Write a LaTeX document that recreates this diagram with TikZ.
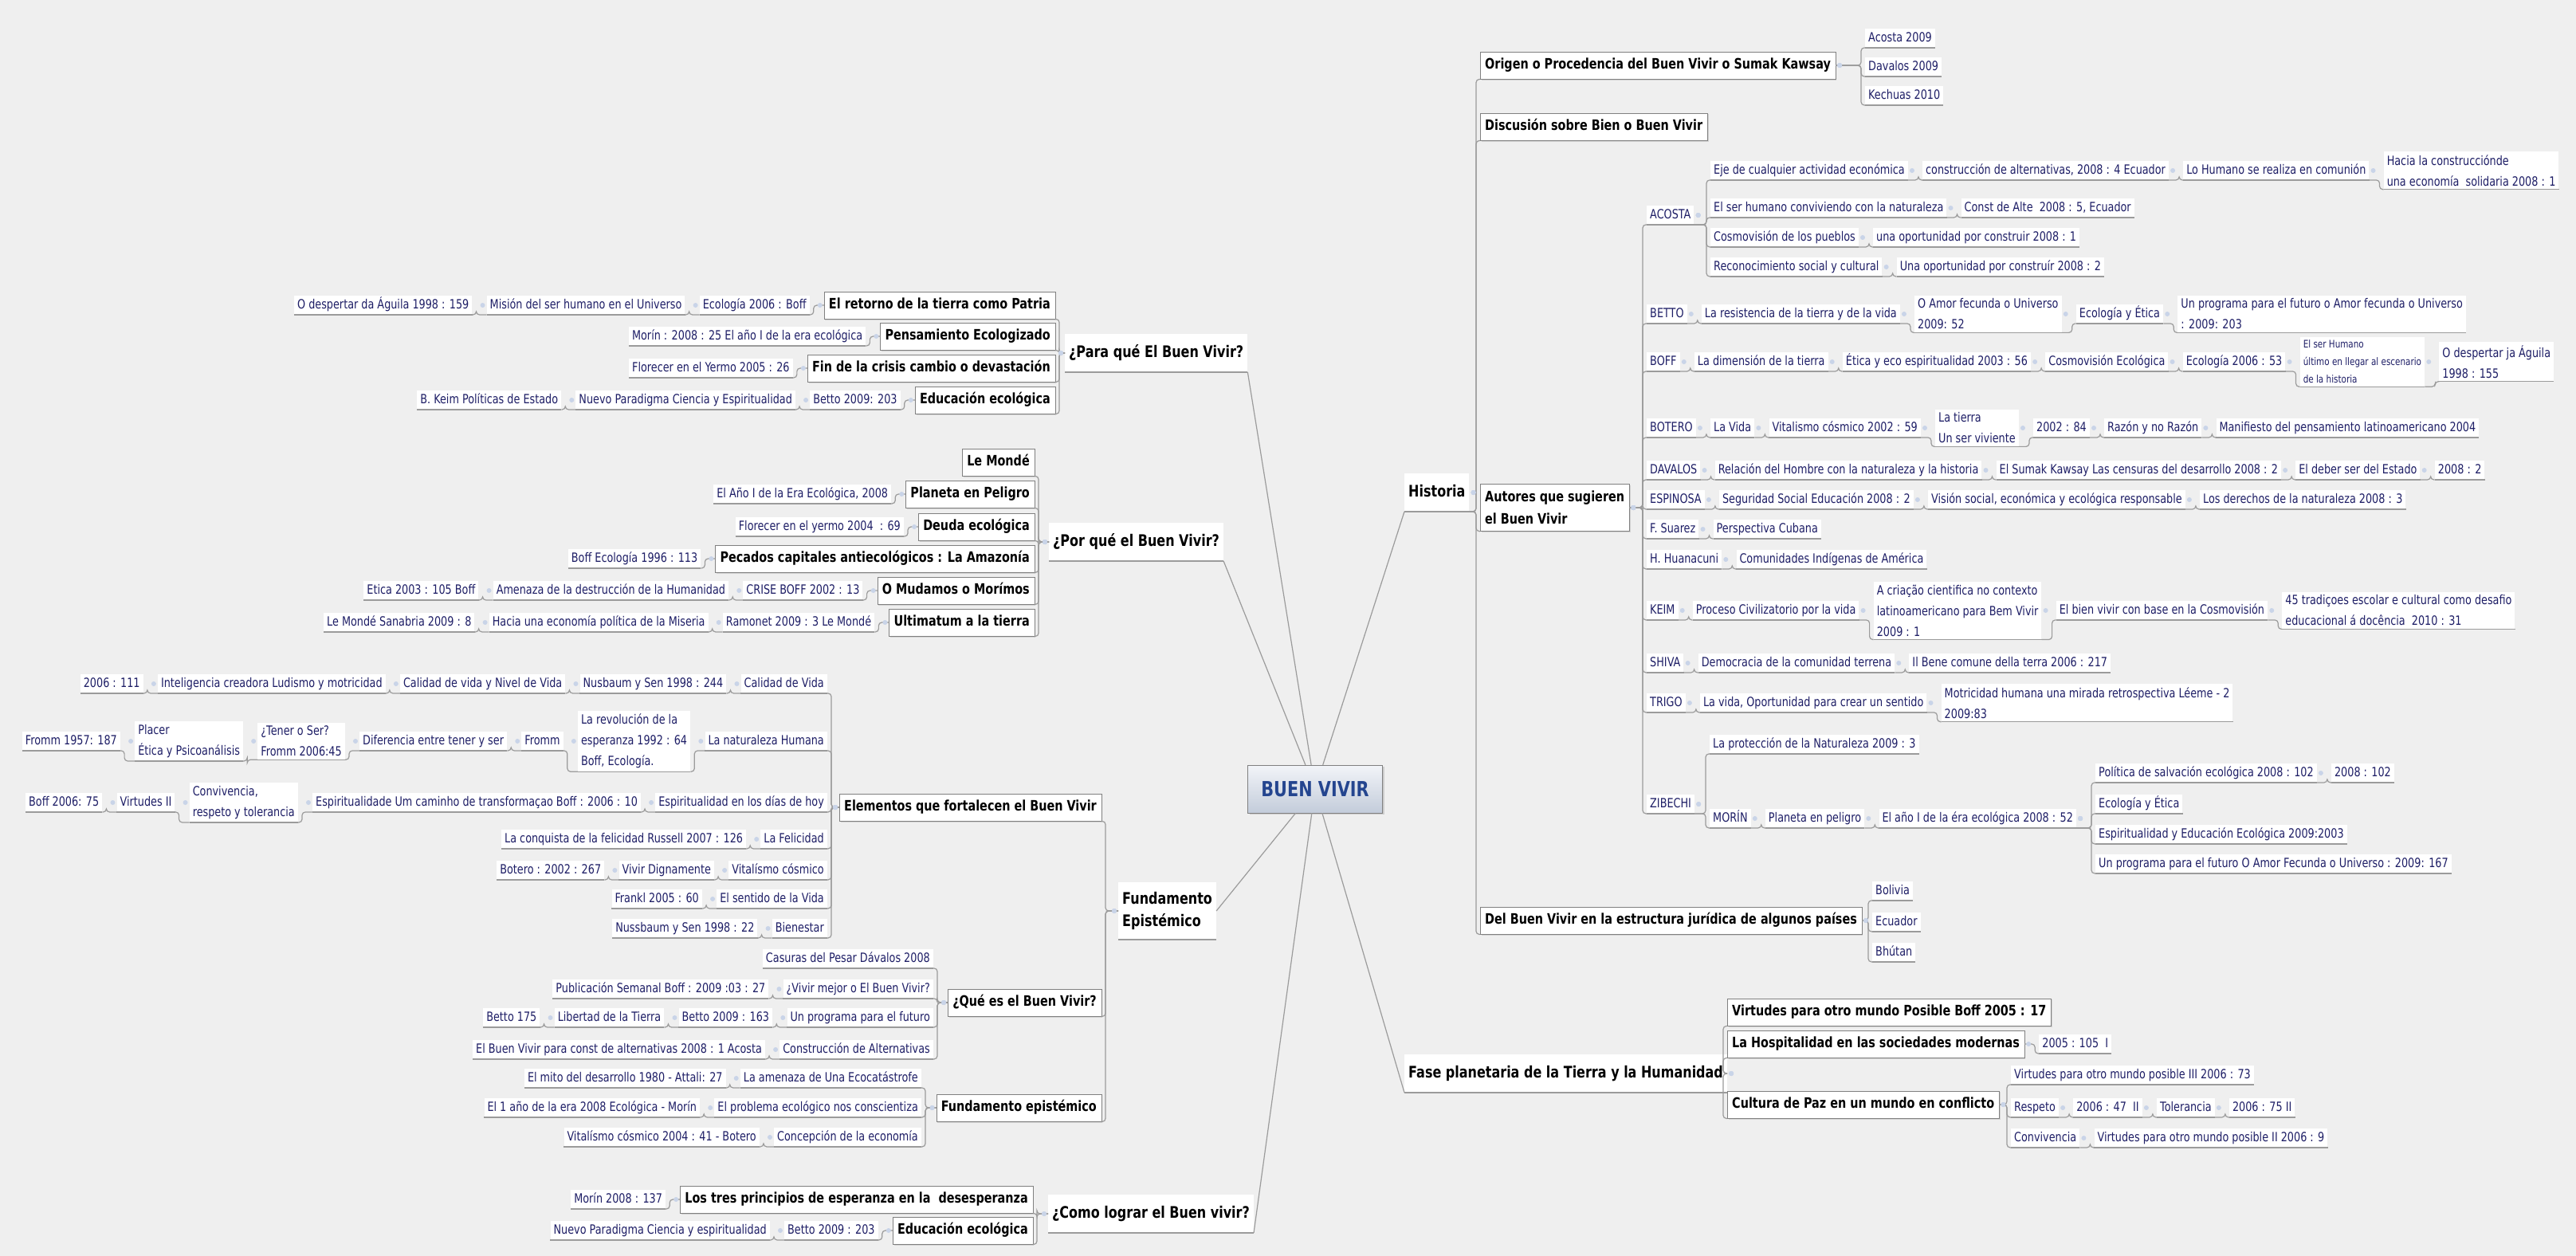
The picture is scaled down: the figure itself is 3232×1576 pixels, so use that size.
\documentclass[tikz,border=0pt]{standalone}
\usepackage{fontspec}
\setmainfont{DejaVu Sans}[FakeStretch=0.8]
\usepackage{xcolor}
\usetikzlibrary{positioning, shadows}

\definecolor{bgcol}{HTML}{EFEFEF}
\definecolor{leaftext}{HTML}{1E1E66}
\definecolor{linecol}{HTML}{9B9B9B}
\definecolor{boxline}{HTML}{808080}
\definecolor{knobcol}{HTML}{C9D4E8}
\definecolor{hubtext}{HTML}{24458F}
\definecolor{hubtop}{HTML}{F2F4F8}
\definecolor{hubbot}{HTML}{C3CCDA}

\newcommand\leafsize{\fontsize{16}{26}\selectfont}
\newcommand\smallleaf{\fontsize{13}{22}\selectfont}
\newcommand\topicsize{\fontsize{18}{28}\selectfont\bfseries}
\newcommand\mainsize{\fontsize{20}{28}\selectfont\bfseries}

% links: optional parent anchor, parent, child
\newcommand\rlk[3][south east]{%
  \draw[link] (#2.#1) -| ([xshift=-5pt]#3.south west) -- (#3.south west);
  \fill[knob] ([xshift=5pt]#2.east) circle (3pt);}
\newcommand\llk[3][south west]{%
  \draw[link] (#2.#1) -| ([xshift=5pt]#3.south east) -- (#3.south east);
  \fill[knob] ([xshift=-5pt]#2.west) circle (3pt);}

\begin{document}
\begin{tikzpicture}[x=1pt, y=-1pt, node distance=18pt,
  uline/.style={draw=linecol, line width=1.3pt},
  link/.style={draw=linecol, line width=1.2pt, rounded corners=4pt},
  knob/.style={fill=knobcol},
  leaf/.style={fill=white, text=leaftext, font=\leafsize, inner xsep=4pt, inner ysep=4pt,
    text height=12pt, text depth=3.5pt,
    append after command={(\tikzlastnode.south west) edge[uline] (\tikzlastnode.south east)}},
  leafm/.style={leaf, text height=, text depth=, align=left},
  topic/.style={draw=boxline, fill=white, font=\topicsize, inner xsep=6pt, inner ysep=8.5pt,
    text height=13.5pt, text depth=4pt,
    drop shadow={shadow xshift=1.5pt, shadow yshift=-1.5pt, opacity=0.25}},
  topicm/.style={topic, text height=, text depth=, align=left},
  main/.style={fill=white, font=\mainsize, inner xsep=5pt, inner ysep=14pt,
    text height=15pt, text depth=4.5pt,
    append after command={(\tikzlastnode.south west) edge[uline] (\tikzlastnode.south east)}},
  mainm/.style={main, text height=, text depth=, align=left, inner ysep=12pt},
  hub/.style={draw=boxline, top color=hubtop, bottom color=hubbot, text=hubtext,
    font=\fontsize{26}{30}\selectfont\bfseries, minimum width=169pt, minimum height=60pt,
    drop shadow={shadow xshift=2pt, shadow yshift=-2pt, opacity=0.3}}]

\useasboundingbox (0,0) rectangle (3232,1576);
\fill[bgcol] (0,0) rectangle (3232,1576);

\node[hub] (bv) at (1650,990) {BUEN VIVIR};

% primary topics
\node[main, anchor=west] (para) at (1336,443) {¿Para qué El Buen Vivir?};
\node[main, anchor=west] (porq) at (1316,680) {¿Por qué el Buen Vivir?};
\node[mainm, anchor=west] (fep) at (1403,1143) {Fundamento\\Epistémico};
\node[main, anchor=west] (com) at (1315,1523) {¿Como lograr el Buen vivir?};
\node[main, anchor=west] (his) at (1762,618) {Historia};
\node[main, anchor=west] (fas) at (1762,1347) {Fase planetaria de la Tierra y la Humanidad};

% ¿Para qué?
\node[topic, anchor=east] (ret) at (1324,383) {El retorno de la tierra como Patria};
\node[leaf, left=of ret] (ret1) {Ecología 2006 : Boff};
\node[leaf, left=of ret1] (ret2) {Misión del ser humano en el Universo};
\node[leaf, left=of ret2] (ret3) {O despertar da Águila 1998 : 159};
\node[topic, anchor=east] (pen) at (1324,422) {Pensamiento Ecologizado};
\node[leaf, left=of pen] (pen1) {Morín : 2008 : 25 El año I de la era ecológica};
\node[topic, anchor=east] (fin) at (1324,462) {Fin de la crisis cambio o devastación};
\node[leaf, left=of fin] (fin1) {Florecer en el Yermo 2005 : 26};
\node[topic, anchor=east] (edu) at (1324,502) {Educación ecológica};
\node[leaf, left=of edu] (edu1) {Betto 2009: 203};
\node[leaf, left=of edu1] (edu2) {Nuevo Paradigma Ciencia y Espiritualidad};
\node[leaf, left=of edu2] (edu3) {B. Keim Políticas de Estado};

% ¿Por qué?
\node[topic, anchor=east] (lem) at (1298,580) {Le Mondé};
\node[topic, anchor=east] (pla) at (1298,620) {Planeta en Peligro};
\node[leaf, left=of pla] (pla1) {El Año I de la Era Ecológica, 2008};
\node[topic, anchor=east] (deu) at (1298,661) {Deuda ecológica};
\node[leaf, left=of deu] (deu1) {Florecer en el yermo 2004\ \ : 69};
\node[topic, anchor=east] (pec) at (1298,701) {Pecados capitales antiecológicos : La Amazonía};
\node[leaf, left=of pec] (pec1) {Boff Ecología 1996 : 113};
\node[topic, anchor=east] (mud) at (1298,741) {O Mudamos o Morímos};
\node[leaf, left=of mud] (mud1) {CRISE BOFF 2002 : 13};
\node[leaf, left=of mud1] (mud2) {Amenaza de la destrucción de la Humanidad};
\node[leaf, left=of mud2] (mud3) {Etica 2003 : 105 Boff};
\node[topic, anchor=east] (ult) at (1298,781) {Ultimatum a la tierra};
\node[leaf, left=of ult] (ult1) {Ramonet 2009 : 3 Le Mondé};
\node[leaf, left=of ult1] (ult2) {Hacia una economía política de la Miseria};
\node[leaf, left=of ult2] (ult3) {Le Mondé Sanabria 2009 : 8};

% Fundamento Epistémico
\node[topic, anchor=east] (ele) at (1382,1013) {Elementos que fortalecen el Buen Vivir};
\node[topic, anchor=east] (que) at (1382,1258) {¿Qué es el Buen Vivir?};
\node[topic, anchor=east] (fun) at (1382,1390) {Fundamento epistémico};

\node[leaf, anchor=east] (cv) at (1038,858) {Calidad de Vida};
\node[leaf, left=of cv] (cv1) {Nusbaum y Sen 1998 : 244};
\node[leaf, left=of cv1] (cv2) {Calidad de vida y Nivel de Vida};
\node[leaf, left=of cv2] (cv3) {Inteligencia creadora Ludismo y motricidad};
\node[leaf, left=of cv3] (cv4) {2006 : 111};
\node[leaf, anchor=east] (nh) at (1038,930) {La naturaleza Humana};
\node[leafm, left=of nh] (nh1) {La revolución de la\\esperanza 1992 : 64\\Boff, Ecología.};
\node[leaf, left=of nh1] (nh2) {Fromm};
\node[leaf, left=of nh2] (nh3) {Diferencia entre tener y ser};
\node[leafm, left=of nh3] (nh4) {¿Tener o Ser?\\Fromm 2006:45};
\node[leafm, left=of nh4] (nh5) {Placer\\Ética y Psicoanálisis};
\node[leaf, left=of nh5] (nh6) {Fromm 1957: 187};
\node[leaf, anchor=east] (esp) at (1038,1007) {Espiritualidad en los días de hoy};
\node[leaf, left=of esp] (esp1) {Espiritualidade Um caminho de transformaçao Boff : 2006 : 10};
\node[leafm, left=of esp1] (esp2) {Convivencia,\\respeto y tolerancia};
\node[leaf, left=of esp2] (esp3) {Virtudes II};
\node[leaf, left=of esp3] (esp4) {Boff 2006: 75};
\node[leaf, anchor=east] (fel) at (1038,1053) {La Felicidad};
\node[leaf, left=of fel] (fel1) {La conquista de la felicidad Russell 2007 : 126};
\node[leaf, anchor=east] (vit) at (1038,1092) {Vitalísmo cósmico};
\node[leaf, left=of vit] (vit1) {Vivir Dignamente};
\node[leaf, left=of vit1] (vit2) {Botero : 2002 : 267};
\node[leaf, anchor=east] (sen) at (1038,1128) {El sentido de la Vida};
\node[leaf, left=of sen] (sen1) {Frankl 2005 : 60};
\node[leaf, anchor=east] (bie) at (1038,1165) {Bienestar};
\node[leaf, left=of bie] (bie1) {Nussbaum y Sen 1998 : 22};

\node[leaf, anchor=east] (cas) at (1171,1203) {Casuras del Pesar Dávalos 2008};
\node[leaf, anchor=east] (viv) at (1171,1241) {¿Vivir mejor o El Buen Vivir?};
\node[leaf, left=of viv] (viv1) {Publicación Semanal Boff : 2009 :03 : 27};
\node[leaf, anchor=east] (prg) at (1171,1277) {Un programa para el futuro};
\node[leaf, left=of prg] (prg1) {Betto 2009 : 163};
\node[leaf, left=of prg1] (prg2) {Libertad de la Tierra};
\node[leaf, left=of prg2] (prg3) {Betto 175};
\node[leaf, anchor=east] (cna) at (1171,1317) {Construcción de Alternativas};
\node[leaf, left=of cna] (cna1) {El Buen Vivir para const de alternativas 2008 : 1 Acosta};

\node[leaf, anchor=east] (ame) at (1156,1353) {La amenaza de Una Ecocatástrofe};
\node[leaf, left=of ame] (ame1) {El mito del desarrollo 1980 - Attali: 27};
\node[leaf, anchor=east] (prb) at (1156,1390) {El problema ecológico nos conscientiza};
\node[leaf, left=of prb] (prb1) {El 1 año de la era 2008 Ecológica - Morín};
\node[leaf, anchor=east] (cep) at (1156,1427) {Concepción de la economía};
\node[leaf, left=of cep] (cep1) {Vitalísmo cósmico 2004 : 41 - Botero};

% ¿Como lograr?
\node[topic, anchor=east] (tre) at (1296,1505) {Los tres principios de esperanza en la\ \ desesperanza};
\node[leaf, left=of tre] (tre1) {Morín 2008 : 137};
\node[topic, anchor=east] (eco) at (1296,1544) {Educación ecológica};
\node[leaf, left=of eco] (eco1) {Betto 2009 : 203};
\node[leaf, left=of eco1] (eco2) {Nuevo Paradigma Ciencia y espiritualidad};

% Historia
\node[topic, anchor=west] (ori) at (1857,82) {Origen o Procedencia del Buen Vivir o Sumak Kawsay};
\node[leaf, anchor=west] (ori1) at (2340,48) {Acosta 2009};
\node[leaf, anchor=west] (ori2) at (2340,84) {Davalos 2009};
\node[leaf, anchor=west] (ori3) at (2340,120) {Kechuas 2010};
\node[topic, anchor=west] (dis) at (1857,159) {Discusión sobre Bien o Buen Vivir};
\node[topicm, anchor=west] (aut) at (1857,637) {Autores que sugieren\\el Buen Vivir};
\node[topic, anchor=west] (del) at (1857,1155) {Del Buen Vivir en la estructura jurídica de algunos países};
\node[leaf, anchor=west] (del1) at (2349,1118) {Bolivia};
\node[leaf, anchor=west] (del2) at (2349,1157) {Ecuador};
\node[leaf, anchor=west] (del3) at (2349,1195) {Bhútan};

% autores
\node[leaf, anchor=west] (acos) at (2066,270) {ACOSTA};
\node[leaf, anchor=west] (ac1) at (2146,214) {Eje de cualquier actividad económica};
\node[leaf, right=of ac1] (ac1a) {construcción de alternativas, 2008 : 4 Ecuador};
\node[leaf, right=of ac1a] (ac1b) {Lo Humano se realiza en comunión};
\node[leafm, right=of ac1b] (ac1c) {Hacia la construcciónde\\una economía\ \ solidaria 2008 : 1};
\node[leaf, anchor=west] (ac2) at (2146,261) {El ser humano conviviendo con la naturaleza};
\node[leaf, right=of ac2] (ac2a) {Const de Alte\ \ 2008 : 5, Ecuador};
\node[leaf, anchor=west] (ac3) at (2146,298) {Cosmovisión de los pueblos};
\node[leaf, right=of ac3] (ac3a) {una oportunidad por construir 2008 : 1};
\node[leaf, anchor=west] (ac4) at (2146,335) {Reconocimiento social y cultural};
\node[leaf, right=of ac4] (ac4a) {Una oportunidad por construír 2008 : 2};

\node[leaf, anchor=west] (bet) at (2066,394) {BETTO};
\node[leaf, right=of bet] (bet1) {La resistencia de la tierra y de la vida};
\node[leafm, right=of bet1] (bet2) {O Amor fecunda o Universo\\2009: 52};
\node[leaf, right=of bet2] (bet3) {Ecología y Ética};
\node[leafm, right=of bet3] (bet4) {Un programa para el futuro o Amor fecunda o Universo\\: 2009: 203};

\node[leaf, anchor=west] (bof) at (2066,454) {BOFF};
\node[leaf, right=of bof] (bof1) {La dimensión de la tierra};
\node[leaf, right=of bof1] (bof2) {Ética y eco espiritualidad 2003 : 56};
\node[leaf, right=of bof2] (bof3) {Cosmovisión Ecológica};
\node[leaf, right=of bof3] (bof4) {Ecología 2006 : 53};
\node[leafm, font=\smallleaf, right=of bof4] (bof5) {El ser Humano\\último en llegar al escenario\\de la historia};
\node[leafm, right=of bof5] (bof6) {O despertar ja Águila\\1998 : 155};

\node[leaf, anchor=west] (bot) at (2066,537) {BOTERO};
\node[leaf, right=of bot] (bot1) {La Vida};
\node[leaf, right=of bot1] (bot2) {Vitalismo cósmico 2002 : 59};
\node[leafm, right=of bot2] (bot3) {La tierra\\Un ser viviente};
\node[leaf, right=of bot3] (bot4) {2002 : 84};
\node[leaf, right=of bot4] (bot5) {Razón y no Razón};
\node[leaf, right=of bot5] (bot6) {Manifiesto del pensamiento latinoamericano 2004};

\node[leaf, anchor=west] (dav) at (2066,590) {DAVALOS};
\node[leaf, right=of dav] (dav1) {Relación del Hombre con la naturaleza y la historia};
\node[leaf, right=of dav1] (dav2) {El Sumak Kawsay Las censuras del desarrollo 2008 : 2};
\node[leaf, right=of dav2] (dav3) {El deber ser del Estado};
\node[leaf, right=of dav3] (dav4) {2008 : 2};

\node[leaf, anchor=west] (esn) at (2066,627) {ESPINOSA};
\node[leaf, right=of esn] (esn1) {Seguridad Social Educación 2008 : 2};
\node[leaf, right=of esn1] (esn2) {Visión social, económica y ecológica responsable};
\node[leaf, right=of esn2] (esn3) {Los derechos de la naturaleza 2008 : 3};

\node[leaf, anchor=west] (sua) at (2066,664) {F. Suarez};
\node[leaf, right=of sua] (sua1) {Perspectiva Cubana};
\node[leaf, anchor=west] (hua) at (2066,702) {H. Huanacuni};
\node[leaf, right=of hua] (hua1) {Comunidades Indígenas de América};

\node[leaf, anchor=west] (kei) at (2066,766) {KEIM};
\node[leaf, right=of kei] (kei1) {Proceso Civilizatorio por la vida};
\node[leafm, right=of kei1] (kei2) {A criação cientifica no contexto\\latinoamericano para Bem Vivir\\2009 : 1};
\node[leaf, right=of kei2] (kei3) {El bien vivir con base en la Cosmovisión};
\node[leafm, right=of kei3] (kei4) {45 tradiçoes escolar e cultural como desafio\\educacional á docência\ \ 2010 : 31};

\node[leaf, anchor=west] (shi) at (2066,832) {SHIVA};
\node[leaf, right=of shi] (shi1) {Democracia de la comunidad terrena};
\node[leaf, right=of shi1] (shi2) {Il Bene comune della terra 2006 : 217};

\node[leaf, anchor=west] (tri) at (2066,882) {TRIGO};
\node[leaf, right=of tri] (tri1) {La vida, Oportunidad para crear un sentido};
\node[leafm, right=of tri1] (tri2) {Motricidad humana una mirada retrospectiva Léeme - 2\\2009:83};

\node[leaf, anchor=west] (zib) at (2066,1009) {ZIBECHI};
\node[leaf, anchor=west] (zi1) at (2145,934) {La protección de la Naturaleza 2009 : 3};
\node[leaf, anchor=west] (mor) at (2145,1027) {MORÍN};
\node[leaf, right=of mor] (mor1) {Planeta en peligro};
\node[leaf, right=of mor1] (mor2) {El año I de la éra ecológica 2008 : 52};
\node[leaf, anchor=west] (zp) at (2629,970) {Política de salvación ecológica 2008 : 102};
\node[leaf, right=of zp] (zp1) {2008 : 102};
\node[leaf, anchor=west] (ze) at (2629,1009) {Ecología y Ética};
\node[leaf, anchor=west] (zs) at (2629,1047) {Espiritualidad y Educación Ecológica 2009:2003};
\node[leaf, anchor=west] (zu) at (2629,1084) {Un programa para el futuro O Amor Fecunda o Universo : 2009: 167};

% Fase planetaria
\node[topic, anchor=west] (vir) at (2167,1270) {Virtudes para otro mundo Posible Boff 2005 : 17};
\node[topic, anchor=west] (hos) at (2167,1310) {La Hospitalidad en las sociedades modernas};
\node[leaf, right=of hos] (hos1) {2005 : 105\ \ I};
\node[topic, anchor=west] (cul) at (2167,1386) {Cultura de Paz en un mundo en conflicto};
\node[leaf, anchor=west] (cu1) at (2523,1349) {Virtudes para otro mundo posible III 2006 : 73};
\node[leaf, anchor=west] (cu2) at (2523,1390) {Respeto};
\node[leaf, right=of cu2] (cu2a) {2006 : 47\ \ II};
\node[leaf, right=of cu2a] (cu2b) {Tolerancia};
\node[leaf, right=of cu2b] (cu2c) {2006 : 75 II};
\node[leaf, anchor=west] (cu3) at (2523,1428) {Convivencia};
\node[leaf, right=of cu3] (cu3a) {Virtudes para otro mundo posible II 2006 : 9};

% center branches
\foreach \t in {para, porq, com} \draw[link] (bv) -- (\t.south east);
\draw[link] (bv) -- (fep.east);
\foreach \t in {his, fas} \draw[link] (bv) -- (\t.south west);

% left links
\foreach \c in {ret, pen, fin, edu} {\llk[west]{para}{\c}}
\foreach \c in {lem, pla, deu, pec, mud, ult} {\llk[west]{porq}{\c}}
\foreach \c in {ele, que, fun} {\llk[west]{fep}{\c}}
\foreach \c in {cv, nh, esp, fel, vit, sen, bie} {\llk[west]{ele}{\c}}
\foreach \c in {cas, viv, prg, cna} {\llk[west]{que}{\c}}
\foreach \c in {ame, prb, cep} {\llk[west]{fun}{\c}}
\foreach \c in {tre, eco} {\llk[west]{com}{\c}}
\foreach \p/\c in {ret/ret1, pen/pen1, fin/fin1, edu/edu1, pla/pla1, deu/deu1, pec/pec1,
  mud/mud1, ult/ult1, tre/tre1, eco/eco1} {\llk[west]{\p}{\c}}
\foreach \p/\c in {ret1/ret2, ret2/ret3, edu1/edu2, edu2/edu3, mud1/mud2, mud2/mud3,
  ult1/ult2, ult2/ult3, eco1/eco2, cv/cv1, cv1/cv2, cv2/cv3, cv3/cv4,
  nh/nh1, nh1/nh2, nh2/nh3, nh3/nh4, nh4/nh5, nh5/nh6,
  esp/esp1, esp1/esp2, esp2/esp3, esp3/esp4, fel/fel1, vit/vit1, vit1/vit2,
  sen/sen1, bie/bie1, viv/viv1, prg/prg1, prg1/prg2, prg2/prg3, cna/cna1,
  ame/ame1, prb/prb1, cep/cep1} {\llk{\p}{\c}}

% right links
\foreach \c in {ori, dis, aut, del} {\rlk{his}{\c}}
\foreach \c in {ori1, ori2, ori3} {\rlk[east]{ori}{\c}}
\foreach \c in {del1, del2, del3} {\rlk[east]{del}{\c}}
\foreach \c in {acos, bet, bof, bot, dav, esn, sua, hua, kei, shi, tri, zib} {\rlk[east]{aut}{\c}}
\foreach \c in {ac1, ac2, ac3, ac4} {\rlk{acos}{\c}}
\foreach \c in {zi1, mor} {\rlk{zib}{\c}}
\foreach \c in {zp, ze, zs, zu} {\rlk{mor2}{\c}}
\foreach \c in {vir, hos, cul} {\rlk[east]{fas}{\c}}
\foreach \c in {hos1} {\rlk[east]{hos}{\c}}
\foreach \c in {cu1, cu2, cu3} {\rlk[east]{cul}{\c}}
\foreach \p/\c in {ac1/ac1a, ac1a/ac1b, ac1b/ac1c, ac2/ac2a, ac3/ac3a, ac4/ac4a,
  bet/bet1, bet1/bet2, bet2/bet3, bet3/bet4,
  bof/bof1, bof1/bof2, bof2/bof3, bof3/bof4, bof4/bof5, bof5/bof6,
  bot/bot1, bot1/bot2, bot2/bot3, bot3/bot4, bot4/bot5, bot5/bot6,
  dav/dav1, dav1/dav2, dav2/dav3, dav3/dav4, esn/esn1, esn1/esn2, esn2/esn3,
  sua/sua1, hua/hua1, kei/kei1, kei1/kei2, kei2/kei3, kei3/kei4,
  shi/shi1, shi1/shi2, tri/tri1, tri1/tri2, mor/mor1, mor1/mor2, zp/zp1,
  cu2/cu2a, cu2a/cu2b, cu2b/cu2c, cu3/cu3a} {\rlk{\p}{\c}}

\end{tikzpicture}
\end{document}
